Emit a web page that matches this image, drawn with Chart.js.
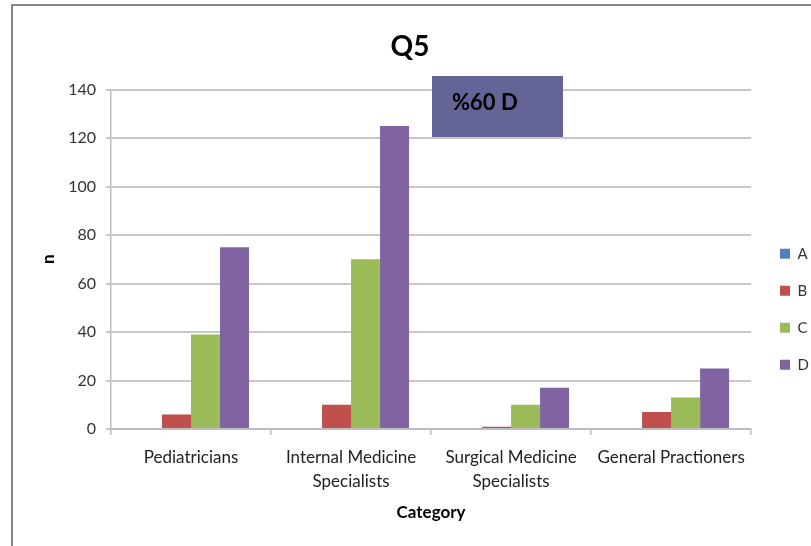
<!DOCTYPE html>
<html>
<head>
<meta charset="utf-8">
<script src="https://cdn.jsdelivr.net/npm/chart.js@4.4.0/dist/chart.umd.min.js"></script>
<style>
  html, body { margin: 0; padding: 0; background: #fff; }
  #wrap { width: 811px; height: 546px; }
</style>
</head>
<body>
<div id="wrap"><canvas id="q5-chart"></canvas></div>
<script>
var categories = ["Pediatricians", ["Internal Medicine", "Specialists"], ["Surgical Medicine", "Specialists"], "General Practioners"];
var seriesNames = ["A", "B", "C", "D"];
var valuesA = [0, 0, 0, 0];
var valuesB = [6, 10, 1, 7];
var valuesC = [39, 70, 10, 13];
var valuesD = [75, 125, 17, 25];
var yTicks = [0, 20, 40, 60, 80, 100, 120, 140];
var noteText = "%60 D";

var seriesColors = ["#4f81bd", "#c0504d", "#9bbb59", "#8064a2"];
var fontFamily = "Lato, 'Open Sans', sans-serif";

// legend sits a bit lower and further right than chart.js puts it
var legendShift = { x: 780, dy: 50 };

var framePlugin = {
    id: "frame",
    afterLayout: function (chart) {
        var lg = chart.legend;
        if (!lg) return;
        var dx = legendShift.x - (lg.left + lg.options.labels.padding);
        lg.left += dx; lg.right += dx;
        lg.top += legendShift.dy; lg.bottom += legendShift.dy;
    },
    afterDraw: function (chart) {
        var ctx = chart.ctx;
        ctx.save();
        ctx.strokeStyle = "#868686";
        ctx.lineWidth = 2;
        ctx.beginPath();
        ctx.moveTo(12, 546);
        ctx.lineTo(12, 5);
        ctx.lineTo(811, 5);
        ctx.stroke();

        // the "%60 D" note box
        ctx.fillStyle = "#646496";
        ctx.fillRect(432, 76, 131, 61);
        ctx.fillStyle = "#000";
        ctx.font = "bold 22px " + fontFamily;
        ctx.textBaseline = "middle";
        ctx.fillText(noteText, 452, 103);
        ctx.restore();
    }
};

var datasets = [valuesA, valuesB, valuesC, valuesD].map(function (vals, i) {
    return {
        label: seriesNames[i],
        data: vals,
        backgroundColor: seriesColors[i],
        borderWidth: 0
    };
});

var config = {
    type: "bar",
    data: { labels: categories, datasets: datasets },
    options: {
        responsive: true,
        maintainAspectRatio: false,
        animation: false,
        layout: { padding: { left: 8, right: -1, top: 0, bottom: 27.6 } },
        datasets: { bar: { categoryPercentage: 0.725, barPercentage: 1 } },
        plugins: {
            title: {
                display: true,
                text: "Q5",
                color: "#000",
                font: { family: fontFamily, size: 28, weight: "bold" },
                padding: { top: 30, bottom: 26 }
            },
            legend: {
                position: "right",
                labels: {
                    boxWidth: 10,
                    boxHeight: 10,
                    padding: 22,
                    color: "#333",
                    font: { family: fontFamily, size: 15 }
                }
            },
            tooltip: { enabled: false }
        },
        scales: {
            x: {
                grid: {
                    display: true,
                    drawOnChartArea: false,
                    offset: true,
                    tickLength: 6,
                    color: "#bdbdbd",
                    lineWidth: 1.5
                },
                border: { color: "#bdbdbd", width: 2 },
                ticks: {
                    color: "#222",
                    padding: 11,
                    maxRotation: 0,
                    autoSkip: false,
                    font: { family: fontFamily, size: 17, lineHeight: 1.4 }
                },
                title: {
                    display: true,
                    text: "Category",
                    color: "#000",
                    font: { family: fontFamily, size: 17, weight: "bold", lineHeight: 0.75 },
                    padding: { top: 1, bottom: 0 }
                }
            },
            y: {
                min: 0,
                max: 140,
                afterBuildTicks: function (scale) {
                    scale.ticks = yTicks.map(function (v) { return { value: v }; });
                },
                afterFit: function (scale) { scale.width = 103; },
                grid: { color: "#c8c8c8", lineWidth: 2, tickLength: 5 },
                border: { color: "#bdbdbd", width: 1.5 },
                ticks: {
                    color: "#333",
                    padding: 10,
                    font: { family: fontFamily, size: 16 }
                },
                title: {
                    display: true,
                    text: "n",
                    color: "#000",
                    padding: { top: 30, bottom: 4 },
                    font: { family: fontFamily, size: 17, weight: "bold" }
                }
            }
        }
    },
    plugins: [framePlugin]
};

var q5Chart = new Chart(document.getElementById("q5-chart").getContext("2d"), config);
</script>
</body>
</html>
